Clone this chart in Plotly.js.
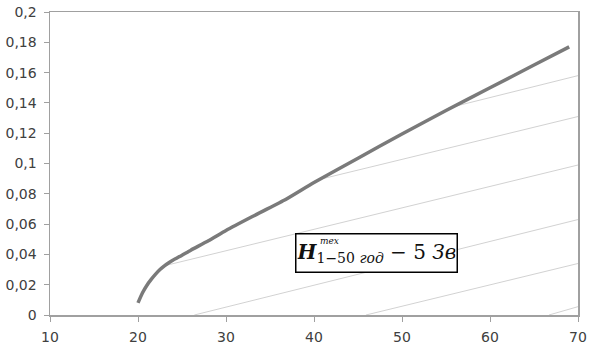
<!DOCTYPE html>
<html>
<head>
<meta charset="utf-8">
<script src="https://cdn.plot.ly/plotly-3.0.1.min.js"></script>
<style>
  html, body { margin: 0; padding: 0; background: #fff; }
  #chart { width: 595px; height: 350px; }
</style>
</head>
<body>
<div id="chart"></div>
<script>
// main curve
const curveX = [20, 20.5, 21, 21.5, 22, 22.5, 23, 23.5, 24, 25, 26, 28, 30, 33, 36.6, 40, 45, 50, 55, 60, 65, 69];
const curveY = [0.008, 0.0145, 0.0195, 0.0235, 0.027, 0.030, 0.0325, 0.0345, 0.0363, 0.0395, 0.0428, 0.049, 0.0558, 0.065, 0.0757, 0.0875, 0.1035, 0.1195, 0.135, 0.150, 0.165, 0.177];

// thin hatch lines: start point and end point at the right edge
const hatchStartX = [55.5, 41, 23, 26.4, 45.9, 66.7];
const hatchStartY = [0.137, 0.090, 0.0325, 0, 0, 0];
const hatchEndX = [70, 70, 70, 70, 70, 70];
const hatchEndY = [0.158, 0.131, 0.099, 0.063, 0.034, 0.0055];

const xTicks = [10, 20, 30, 40, 50, 60, 70];
const yTicks = [0, 0.02, 0.04, 0.06, 0.08, 0.1, 0.12, 0.14, 0.16, 0.18, 0.2];
const yTickText = ["0", "0,02", "0,04", "0,06", "0,08", "0,1", "0,12", "0,14", "0,16", "0,18", "0,2"];

const labelX = 47.1, labelY = 0.041;

const traces = [];
hatchStartX.forEach((x0, i) => {
  traces.push({
    x: [x0, hatchEndX[i]], y: [hatchStartY[i], hatchEndY[i]],
    type: "scatter", mode: "lines", showlegend: false, hoverinfo: "skip",
    line: { color: "#d2d2d2", width: 1 }
  });
});
traces.push({
  x: curveX, y: curveY, type: "scatter", mode: "lines", showlegend: false,
  line: { color: "#7a7a7a", width: 3.5, shape: "spline", smoothing: 0.5 }
});

const tickFont = { family: "DejaVu Sans, sans-serif", size: 14, color: "#404040" };
const mathFont = { family: "DejaVu Serif, Liberation Serif, serif", size: 20, color: "#111" };

const layout = {
  width: 595, height: 350,
  paper_bgcolor: "#fff", plot_bgcolor: "#fff",
  margin: { l: 50, r: 17, t: 12, b: 35 },
  xaxis: {
    range: [10, 70], tickvals: xTicks, showgrid: false, zeroline: false,
    showline: true, linecolor: "#a0a0a0", linewidth: 1.5, mirror: true,
    ticks: "outside", ticklen: 5, tickcolor: "#a0a0a0", tickfont: tickFont,
    ticklabelstandoff: 4
  },
  yaxis: {
    range: [0, 0.2], tickvals: yTicks, ticktext: yTickText, showgrid: false, zeroline: false,
    showline: true, linecolor: "#a0a0a0", linewidth: 1.5, mirror: true,
    ticks: "outside", ticklen: 5, tickcolor: "#a0a0a0", tickfont: tickFont,
    ticklabelstandoff: 4
  },
  annotations: [
    {
      x: labelX, y: labelY, xref: "x", yref: "y", showarrow: false,
      text: "<b><i>H</i></b><sub>1−50 <i>год</i></sub> − 5 <i>Зв</i>",
      font: mathFont, bgcolor: "#fff", bordercolor: "#000", borderwidth: 1.5,
      width: 158, height: 35, align: "center"
    },
    {
      x: labelX, y: labelY, xref: "x", yref: "y", showarrow: false,
      text: "<i>тех</i>", font: { family: "DejaVu Serif, serif", size: 9, color: "#111" },
      xshift: -47, yshift: 12
    }
  ]
};

Plotly.newPlot("chart", traces, layout, { displayModeBar: false, staticPlot: true });
</script>
</body>
</html>
